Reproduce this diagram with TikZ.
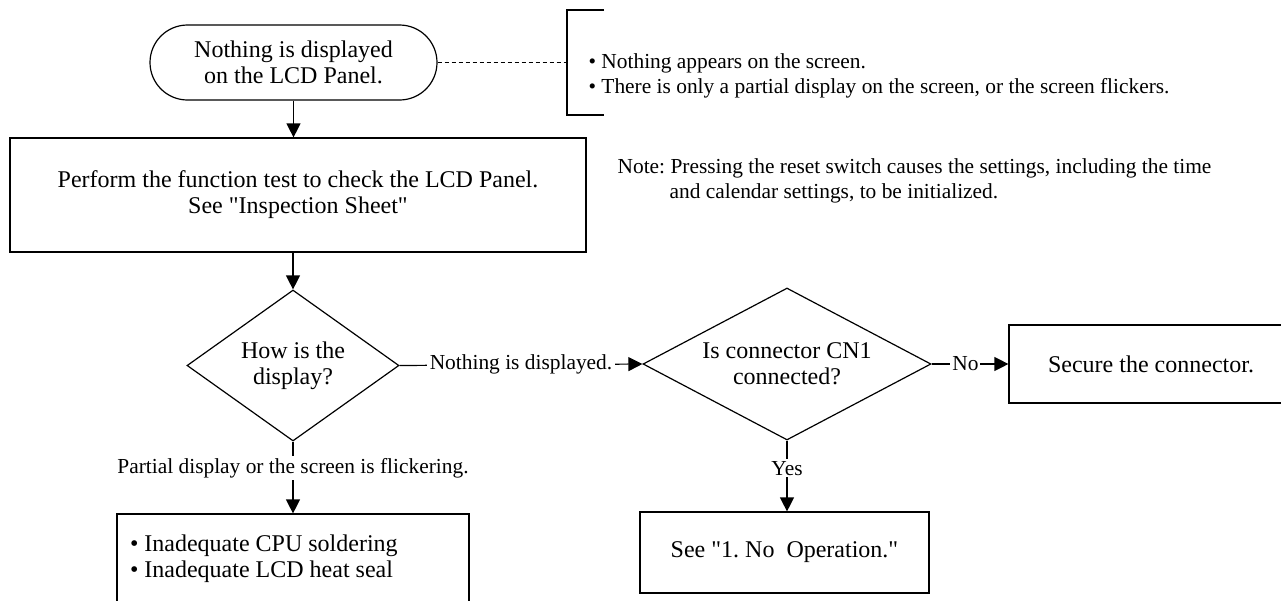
\documentclass[tikz,border=0pt]{standalone}
\usepackage{fontspec}
\setmainfont{Liberation Serif}[Ligatures=TeXOff]
\usetikzlibrary{shapes.geometric,arrows.meta}
\frenchspacing
\begin{document}
\begin{tikzpicture}[x=1pt,y=-1pt,
  line width=1.2pt,
  boxfont/.style={font=\fontsize{24}{26}\selectfont},
  smallfont/.style={font=\fontsize{21.4}{24.5}\selectfont},
  procbox/.style={draw, rectangle, boxfont, align=center, inner sep=0pt},
  termbox/.style={draw, rectangle, rounded corners=37.5pt, boxfont, align=center, inner sep=0pt},
  decision/.style={draw, diamond, boxfont, align=center, inner sep=0pt},
  flow/.style={-{Triangle[length=14pt,width=14pt]}},
  elabel/.style={smallfont, fill=white, inner sep=3pt},
  plaintext/.style={smallfont, align=left, anchor=north west, inner sep=0pt},
]
\useasboundingbox (0,0) rectangle (1281,600);
\clip (0,0) rectangle (1281,600);

\node[termbox, minimum width=287pt, minimum height=75pt] (start) at (293.5,62.5) {Nothing is displayed\\on the LCD Panel.};
\node[procbox, minimum width=576pt, minimum height=114pt] (test) at (298,195) {Perform the function test to check the LCD Panel.\\See "Inspection Sheet"};
\node[decision, aspect=1.4, minimum width=212pt, minimum height=151pt] (how) at (293,365.5) {How is the\\display?};
\node[decision, aspect=1.89, minimum width=288pt, minimum height=152pt] (cn1) at (787,364) {Is connector CN1\\connected?};
\node[procbox, minimum width=284pt, minimum height=78pt] (secure) at (1151,364) {Secure the connector.};
\node[procbox, minimum width=289pt, minimum height=81pt] (noop) at (784.5,552.5) {See "1. No\ \ Operation."};
\node[procbox, minimum width=352pt, minimum height=90pt, text width=326pt, align=flush left, inner xsep=13pt] (cause) at (293,559) {• Inadequate CPU soldering\\• Inadequate LCD heat seal};

% bracket with the symptoms
\coordinate (brtop) at (604,10);
\coordinate (brmid) at (567,62.5);
\coordinate (brbot) at (604,115);
\draw (brtop) -- (brtop -| brmid) -- (brbot -| brmid) -- (brbot);
\draw[line width=0.8pt, dash pattern=on 4pt off 3pt] (start.east) -- (brmid);
\node[plaintext] (symptoms) at (588,53.5) {• Nothing appears on the screen.\\• There is only a partial display on the screen, or the screen flickers.};

\node[plaintext] (note) at (617,158.5) {Note: Pressing the reset switch causes the settings, including the time\\\hspace*{52pt}and calendar settings, to be initialized.};

% connectors
\draw[flow] (start.south) -- (start.south |- test.north);
\draw[flow] (how.north |- test.south) -- (how.north);
\draw[flow] (how.east) -- node[elabel]{Nothing is displayed.} (cn1.west);
\draw[flow] (cn1.east) -- node[elabel, inner sep=2pt, pos=0.44]{No} (secure.west);
\draw[flow] (cn1.south) -- node[elabel, inner sep=2pt, pos=0.39]{Yes} (cn1.south |- noop.north);
\draw[flow] (how.south) -- node[elabel, inner sep=2pt, pos=0.37]{Partial display or the screen is flickering.} (how.south |- cause.north);
\end{tikzpicture}
\end{document}
